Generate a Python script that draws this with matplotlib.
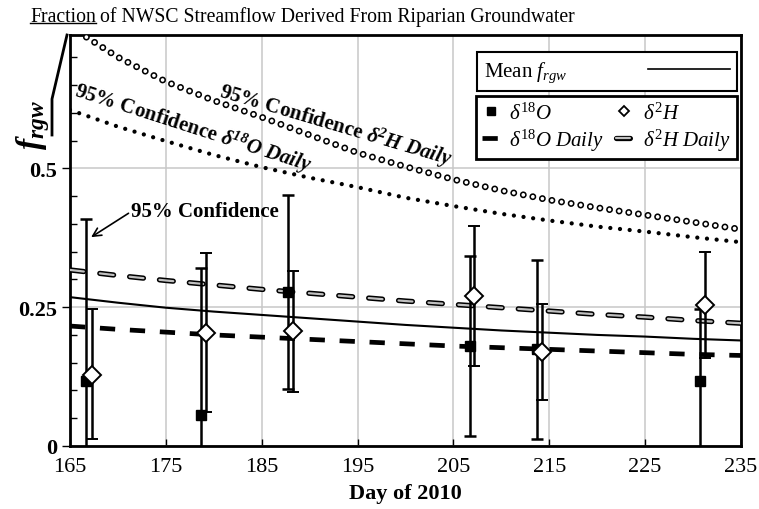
import matplotlib
matplotlib.use('Agg')
import matplotlib.pyplot as plt
import matplotlib.patheffects as pe
from matplotlib.lines import Line2D
from matplotlib.ticker import MultipleLocator

plt.rcParams['font.family'] = ['Liberation Serif', 'DejaVu Serif']
plt.rcParams['mathtext.fontset'] = 'custom'
plt.rcParams['mathtext.rm'] = 'Liberation Serif'
plt.rcParams['mathtext.it'] = 'Liberation Serif:italic'
plt.rcParams['mathtext.bf'] = 'Liberation Serif:bold'
plt.rcParams['mathtext.bfit'] = 'Liberation Serif:bold:italic'
plt.rcParams['lines.scale_dashes'] = False

# daily model curves (day of 2010)
days = [165, 170, 175, 180, 185, 190, 195, 200, 205, 210, 215, 220, 225, 230, 235]
mean_frgw = [0.268, 0.258, 0.249, 0.242, 0.236, 0.230, 0.224, 0.218, 0.213, 0.208,
             0.204, 0.200, 0.197, 0.193, 0.190]
d2h_daily = [0.317, 0.307, 0.298, 0.290, 0.282, 0.275, 0.268, 0.261, 0.255, 0.249,
             0.243, 0.237, 0.232, 0.226, 0.221]
d18o_daily = [0.216, 0.210, 0.205, 0.200, 0.196, 0.192, 0.188, 0.184, 0.180, 0.177,
              0.174, 0.171, 0.168, 0.165, 0.163]
d18o_ci = [0.605, 0.575, 0.549, 0.524, 0.502, 0.483, 0.466, 0.447, 0.432, 0.418,
           0.406, 0.395, 0.386, 0.376, 0.367]
d2h_ci = [0.755, 0.700, 0.656, 0.622, 0.592, 0.560, 0.528, 0.503, 0.480, 0.460,
          0.443, 0.429, 0.416, 0.403, 0.390]

# sample estimates with 95% confidence bounds
o18_day = [166.7, 178.7, 187.7, 206.7, 213.7, 230.7]
o18_val = [0.117, 0.056, 0.277, 0.180, 0.175, 0.117]
o18_lo = [-0.20, -0.20, 0.103, 0.018, 0.013, -0.20]
o18_hi = [0.408, 0.320, 0.452, 0.342, 0.334, 0.246]

h2_day = [167.3, 179.2, 188.3, 207.1, 214.2, 231.2]
h2_val = [0.128, 0.203, 0.207, 0.270, 0.169, 0.254]
h2_lo = [0.013, 0.061, 0.097, 0.144, 0.083, 0.158]
h2_hi = [0.246, 0.347, 0.315, 0.397, 0.255, 0.350]

W, H = 759, 510
fig = plt.figure(figsize=(W / 100, H / 100), dpi=100)
ax = fig.add_axes([70 / W, 1 - 447 / H, 671 / W, 411 / H])

# curves
ax.plot(days, d2h_ci, color='k', lw=5, dashes=(0.001, 7),
        dash_capstyle='round', zorder=3)
ax.plot(days, d2h_ci, color='white', lw=2.7, dashes=(0.001, 7),
        dash_capstyle='round', zorder=3.1)
ax.plot(days, d18o_ci, color='k', lw=3.1, dashes=(0.001, 7),
        dash_capstyle='round', zorder=3)
ax.plot(days, mean_frgw, color='k', lw=1.5, zorder=3)
h2d_line, = ax.plot(days, d2h_daily, color='#c0c0c0', lw=1.6, dashes=(10, 11.6),
                    dash_capstyle='round', zorder=3,
                    path_effects=[pe.Stroke(linewidth=3.8, foreground='k'), pe.Normal()])
o18d_line, = ax.plot(days, d18o_daily, color='k', lw=3.4, dashes=(11, 10.6),
                     dash_capstyle='butt', zorder=3)

# error bars and markers
ax.errorbar(o18_day, o18_val,
            yerr=[[v - l for v, l in zip(o18_val, o18_lo)],
                  [h - v for v, h in zip(o18_val, o18_hi)]],
            fmt='s', color='k', ms=7.8, elinewidth=1.8, capsize=4, capthick=1.8,
            zorder=5)
ax.errorbar(h2_day, h2_val,
            yerr=[[v - l for v, l in zip(h2_val, h2_lo)],
                  [h - v for v, h in zip(h2_val, h2_hi)]],
            fmt='D', color='k', mfc='white', mec='k', mew=1.4, ms=9,
            elinewidth=1.8, capsize=4, capthick=1.8, zorder=6)

ax.set_xlim(165, 235)
ax.set_ylim(0, 0.74)
ax.set_xticks(range(165, 236, 10))
ax.set_xticklabels([str(d) for d in range(165, 236, 10)], fontsize=16)
ax.set_yticks([0, 0.25, 0.5], ['0', '0.25', '0.5'], fontsize=16, fontweight='bold')
ax.yaxis.set_minor_locator(MultipleLocator(0.05))
ax.tick_params(axis='x', direction='in', length=5, width=1, pad=8)
ax.tick_params(axis='y', which='major', direction='out', length=6, width=1, pad=3)
ax.tick_params(axis='y', which='minor', direction='in', length=5, width=1)
ax.grid(True, which='major', color='#c8c8c8', lw=1.1, zorder=0)
ax.set_axisbelow(True)
for s in ax.spines.values():
    s.set_linewidth(2)
ax.set_xlabel('Day of 2010', fontsize=16, fontweight='bold', labelpad=5)

# curve annotations
ax.text(192.7, 0.579, r'95% Confidence $\mathbfit{\delta^{2}H\ Daily}$',
        fontsize=15, fontweight='bold', rotation=-16.5, ha='center', va='center',
        rotation_mode='anchor', zorder=7)
ax.text(177.8, 0.574, r'95% Confidence $\mathbfit{\delta^{18}O\ Daily}$',
        fontsize=15, fontweight='bold', rotation=-17.8, ha='center', va='center',
        rotation_mode='anchor', zorder=7)
ax.annotate('95% Confidence', xy=(167.2, 0.376), xytext=(179.1, 0.424),
            fontsize=15, fontweight='bold', ha='center', va='center',
            arrowprops=dict(arrowstyle='->', color='k', lw=1.2, shrinkA=0, shrinkB=0,
                            relpos=(0, 0.45)),
            zorder=7)

# legend boxes
leg1 = ax.legend(handles=[Line2D([], [], color='k', lw=1.2)],
                 labels=[r'Mean $f_{rgw}$'], loc='upper right',
                 bbox_to_anchor=(667 / 671, (447 - 53) / 411), borderaxespad=0,
                 markerfirst=False, handlelength=3.9, handletextpad=3.9,
                 fontsize=15, frameon=True, fancybox=False, edgecolor='k',
                 framealpha=1, borderpad=0.35)
leg1.get_frame().set_linewidth(1.5)
ax.add_artist(leg1)

sq = Line2D([], [], ls='none', marker='s', color='k', ms=6)
dia = Line2D([], [], ls='none', marker='D', mfc='white', mec='k', mew=1.3, ms=5.5)
leg2 = ax.legend(handles=[sq, o18d_line, dia, h2d_line],
                 labels=[r'$\delta^{18}O$', r'$\delta^{18}O\ Daily$',
                         r'$\delta^{2}H$', r'$\delta^{2}H\ Daily$'],
                 ncol=2, loc='upper left', mode='expand',
                 bbox_to_anchor=(406 / 671, (447 - 156) / 411, 261 / 671, 59 / 411),
                 borderaxespad=0, handlelength=0.8, handletextpad=0.5,
                 columnspacing=0.6, labelspacing=0.15, fontsize=15, frameon=True,
                 fancybox=False, edgecolor='k', framealpha=1, borderpad=0.3)
leg2.get_frame().set_linewidth(2)

# y label with its bracket line
fig.text(33 / W, 1 - 125 / H, r'$\mathbfit{f_{rgw}}$', rotation=90,
         ha='center', va='center', fontsize=24)
fig.add_artist(Line2D([67 / W, 52 / W, 52 / W], [1 - 36 / H, 1 - 100 / H, 1 - 136 / H],
                      transform=fig.transFigure, color='k', lw=2))

# title with underlined first word
t1 = fig.text(30 / W, 1 - 22 / H, 'Fraction', fontsize=14.2, va='baseline')
fig.canvas.draw()
bb = t1.get_window_extent(fig.canvas.get_renderer())
fig.text(bb.x1 / W + 4 / W, 1 - 22 / H,
         'of NWSC Streamflow Derived From Riparian Groundwater',
         fontsize=14.2, va='baseline')
fig.add_artist(Line2D([bb.x0 / W, bb.x1 / W], [1 - 24 / H, 1 - 24 / H],
                      transform=fig.transFigure, color='k', lw=1))

fig.savefig('out.png', dpi=100)
